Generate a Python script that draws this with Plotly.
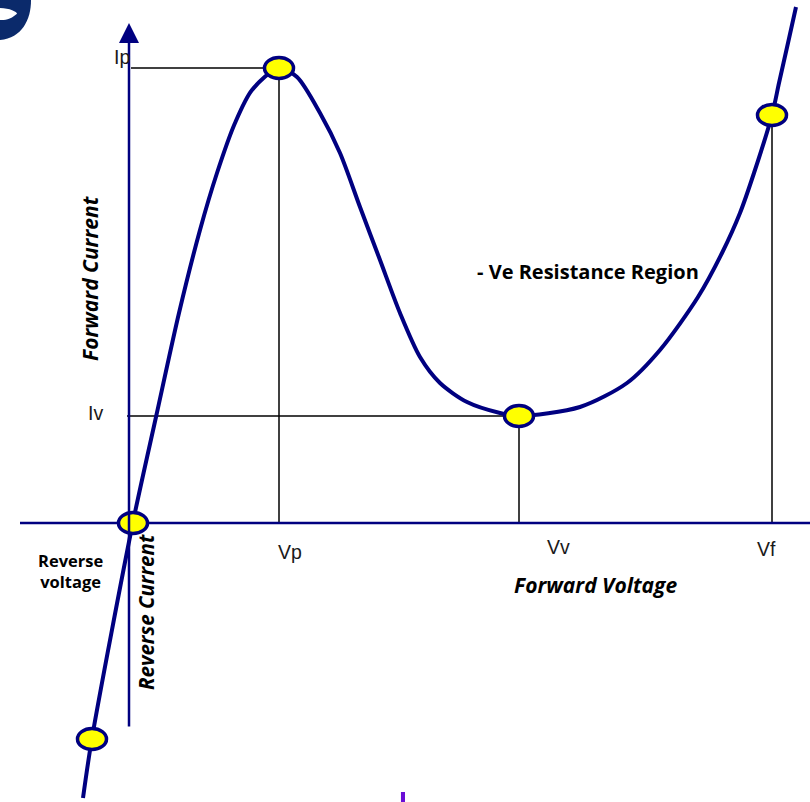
import plotly.graph_objects as go

# Tunnel diode I-V characteristic (arbitrary units)
curve_v = [-0.46, -0.37, 0.04, 0.27, 0.50, 0.71, 0.88, 1.06, 1.23, 1.50, 1.68, 1.91, 2.11,
           2.31, 2.51, 2.71, 2.91, 3.11, 3.38, 3.71, 3.90, 4.51, 4.98, 5.31, 5.69, 5.93,
           6.11, 6.25, 6.43, 6.50, 6.59, 6.67]
curve_i = [-2.75, -2.15, 0.01, 1.06, 2.10, 2.93, 3.50, 4.00, 4.33, 4.55, 4.46, 4.10, 3.70,
           3.16, 2.63, 2.10, 1.66, 1.40, 1.21, 1.10, 1.07, 1.16, 1.40, 1.73, 2.26, 2.70,
           3.10, 3.50, 4.08, 4.40, 4.80, 5.16]

# Key points
Vp, Ip = 1.50, 4.55
Vv, Iv = 3.90, 1.07
Vf, If = 6.43, 4.08
marker_v = [0.04, -0.37, Vp, Vv, Vf]
marker_i = [0.0, -2.16, Ip, Iv, If]

tick_labels = ["Ip", "Iv", "Vp", "Vv", "Vf"]

NAVY = "#000080"
fig = go.Figure()

fig.add_trace(go.Scatter(x=curve_v, y=curve_i, mode="lines",
                         line=dict(color=NAVY, width=4, shape="spline", smoothing=0.8),
                         hoverinfo="skip", showlegend=False))

shapes = []
# reference lines
shapes.append(dict(type="line", x0=0.02, x1=Vp, y0=Ip, y1=Ip, line=dict(color="black", width=1.5), layer="below"))
shapes.append(dict(type="line", x0=Vp, x1=Vp, y0=0, y1=Ip, line=dict(color="black", width=1.5), layer="below"))
shapes.append(dict(type="line", x0=-0.02, x1=Vv, y0=Iv, y1=Iv, line=dict(color="black", width=1.5), layer="below"))
shapes.append(dict(type="line", x0=Vv, x1=Vv, y0=0, y1=Iv, line=dict(color="black", width=1.5), layer="below"))
shapes.append(dict(type="line", x0=Vf, x1=Vf, y0=0, y1=If, line=dict(color="black", width=1.5), layer="below"))
# horizontal axis
shapes.append(dict(type="line", x0=-1.09, x1=6.81, y0=0, y1=0, line=dict(color=NAVY, width=2.5), layer="below"))
# point ellipses
for mv, mi in zip(marker_v, marker_i):
    shapes.append(dict(type="circle", x0=mv - 0.145, x1=mv + 0.145, y0=mi - 0.105, y1=mi + 0.105,
                       fillcolor="#FFFF00", line=dict(color=NAVY, width=3.5), layer="above"))
# decorative slide elements
shapes.append(dict(type="path", xref="paper", yref="paper",
                   path="M 0,1 L 0.0383,1 C 0.0383,0.975 0.027,0.953 0,0.95 Z",
                   fillcolor="#0B2A6B", line=dict(width=0)))
shapes.append(dict(type="path", xref="paper", yref="paper",
                   path="M 0,0.99 C 0.012,0.99 0.021,0.985 0.021,0.983 C 0.012,0.975 0.006,0.975 0,0.975 Z",
                   fillcolor="white", line=dict(width=0)))
shapes.append(dict(type="rect", xref="paper", yref="paper", x0=0.495, x1=0.5, y0=0, y1=0.0125,
                   fillcolor="#6A0DD6", line=dict(width=0)))

annotations = []
# vertical axis with arrow
annotations.append(dict(x=0, y=5.0, ax=0, ay=-2.05, xref="x", yref="y", axref="x", ayref="y",
                        showarrow=True, arrowhead=2, arrowsize=1.6, arrowwidth=2.5, arrowcolor=NAVY, text=""))

lab_font = dict(family="Liberation Sans, Arial", size=19.5, color="#1a1a1a")
annotations.append(dict(x=0.03, y=4.66, text=tick_labels[0], showarrow=False, xanchor="right", font=lab_font))
annotations.append(dict(x=-0.34, y=1.10, text=tick_labels[1], showarrow=False, font=lab_font))
annotations.append(dict(x=1.61, y=-0.29, text=tick_labels[2], showarrow=False, font=lab_font))
annotations.append(dict(x=4.29, y=-0.24, text=tick_labels[3], showarrow=False, font=lab_font))
annotations.append(dict(x=6.37, y=-0.26, text=tick_labels[4], showarrow=False, font=lab_font))

ital_font = dict(family="Open Sans", size=21, color="black")
annotations.append(dict(x=-0.39, y=2.45, text="<b><i>Forward Current</i></b>", showarrow=False, textangle=-90,
                        font=ital_font))
annotations.append(dict(x=0.17, y=-0.89, text="<b><i>Reverse Current</i></b>", showarrow=False, textangle=-90,
                        font=dict(family="Open Sans", size=20.5, color="black")))
annotations.append(dict(x=4.66, y=-0.62, text="<b><i>Forward Voltage</i></b>", showarrow=False,
                        font=dict(family="Open Sans", size=21, color="black")))
annotations.append(dict(x=4.59, y=2.52, text="<b>- Ve Resistance Region</b>", showarrow=False,
                        font=dict(family="Open Sans", size=20, color="black")))
annotations.append(dict(x=-0.59, y=-0.48, text="<b>Reverse<br>voltage</b>", showarrow=False,
                        font=dict(family="Open Sans", size=16.5, color="black")))

fig.update_layout(
    width=810, height=802, margin=dict(l=0, r=0, t=0, b=0),
    paper_bgcolor="white", plot_bgcolor="white",
    xaxis=dict(range=[-1.29, 6.81], visible=False, fixedrange=True),
    yaxis=dict(range=[-2.79, 5.23], visible=False, fixedrange=True),
    shapes=shapes, annotations=annotations, showlegend=False,
)

fig.write_html("out.html", config={"displayModeBar": False},
               post_script="document.body.style.margin='0';document.body.style.overflow='hidden';")
